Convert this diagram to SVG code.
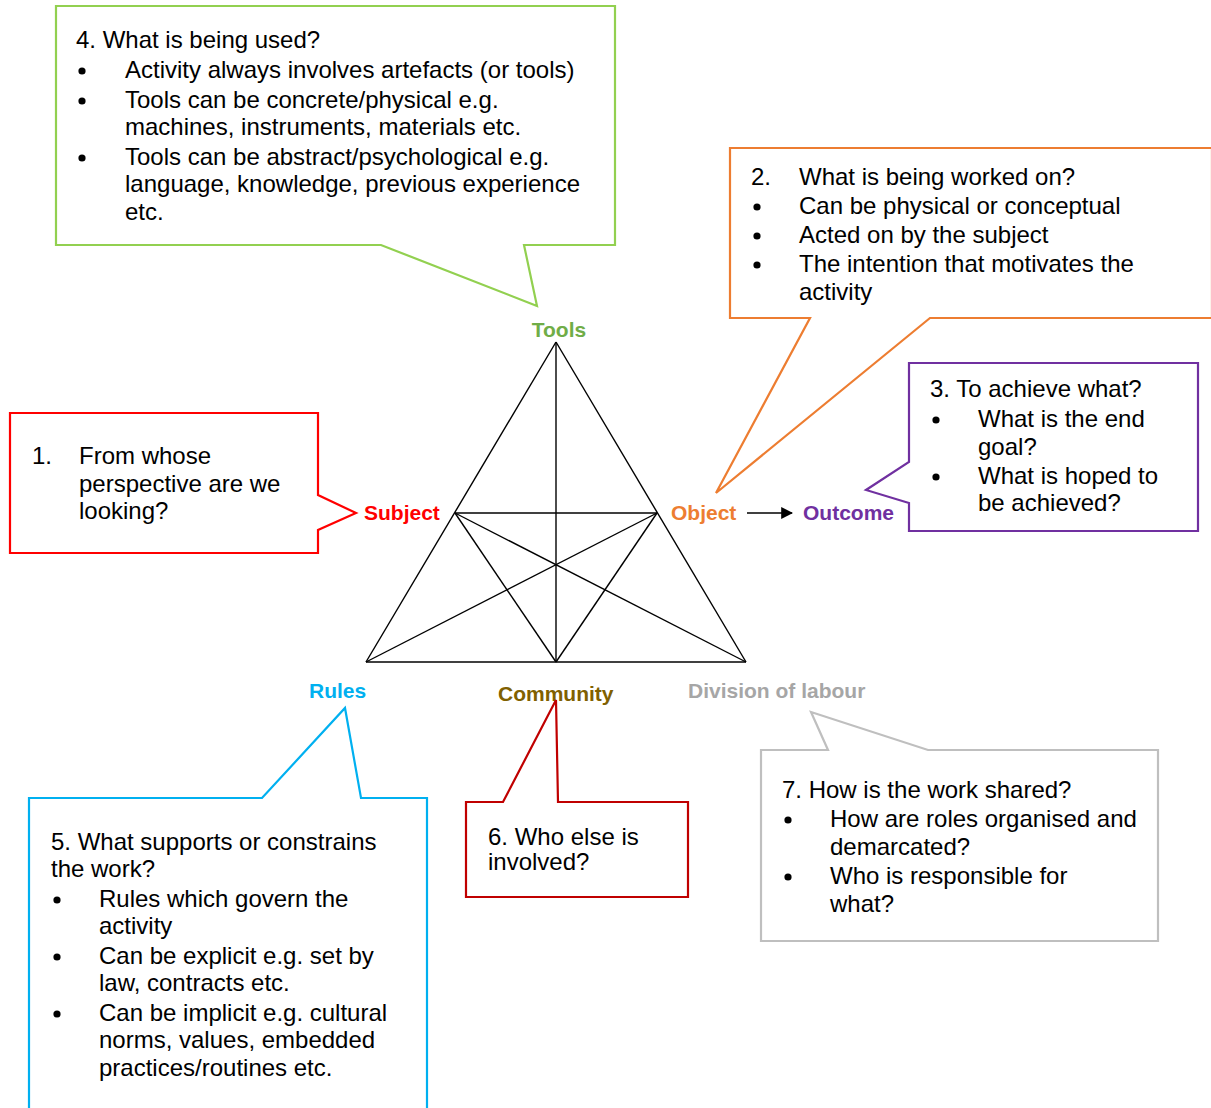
<svg xmlns="http://www.w3.org/2000/svg" width="1211" height="1108" viewBox="0 0 1211 1108">
<defs>
<style>
.t{font-family:"Liberation Sans",Arial,sans-serif;font-size:24px;fill:#000}
.lb{font-family:"Liberation Sans",Arial,sans-serif;font-size:21px;font-weight:bold}
.co{fill:#fff;stroke-width:2.2}
.b{fill:#000}
.tri line{stroke:#000;stroke-width:1.4}
</style>
<marker id="ah" viewBox="0 0 10 10" refX="9" refY="5" markerWidth="12" markerHeight="12" markerUnits="userSpaceOnUse" orient="auto">
<path d="M0,0 L10,5 L0,10 Z" fill="#000"/>
</marker>
</defs>
<rect width="1211" height="1108" fill="#fff"/>

<g id="connectors">
<g class="tri">
<line x1="556" y1="342" x2="366" y2="662"/>
<line x1="556" y1="342" x2="746" y2="662"/>
<line x1="366" y1="662" x2="746" y2="662"/>
<line x1="556" y1="342" x2="556" y2="662"/>
<line x1="455" y1="513" x2="657" y2="513"/>
<line x1="455" y1="513" x2="556" y2="662"/>
<line x1="657" y1="513" x2="556" y2="662"/>
<line x1="455" y1="513" x2="746" y2="662"/>
<line x1="657" y1="513" x2="366" y2="662"/>
</g>
<line x1="747" y1="513" x2="792" y2="513" stroke="#000" stroke-width="1.4" marker-end="url(#ah)"/>
</g>

<g id="tools-callout">
<path class="co" stroke="#92D050" d="M56,6 H615 V245 H524 L537,306 L381,245 H56 Z"/>
<text class="t" x="76" y="48">4. What is being used?</text>
<circle class="b" cx="82" cy="71" r="3.6"/><text class="t" x="125" y="78">Activity always involves artefacts (or tools)</text>
<circle class="b" cx="82" cy="101" r="3.6"/><text class="t" x="125" y="108">Tools can be concrete/physical e.g.</text>
<text class="t" x="125" y="135">machines, instruments, materials etc.</text>
<circle class="b" cx="82" cy="158" r="3.6"/><text class="t" x="125" y="165">Tools can be abstract/psychological e.g.</text>
<text class="t" x="125" y="192">language, knowledge, previous experience</text>
<text class="t" x="125" y="220">etc.</text>
</g>

<g id="object-callout">
<path class="co" stroke="#ED7D31" d="M730,148 H1212 V318 H930 L716,493 L810,318 H730 Z"/>
<text class="t" x="751" y="185">2.</text><text class="t" x="799" y="185">What is being worked on?</text>
<circle class="b" cx="757" cy="207" r="3.6"/><text class="t" x="799" y="214">Can be physical or conceptual</text>
<circle class="b" cx="757" cy="236" r="3.6"/><text class="t" x="799" y="243">Acted on by the subject</text>
<circle class="b" cx="757" cy="265" r="3.6"/><text class="t" x="799" y="272">The intention that motivates the</text>
<text class="t" x="799" y="300">activity</text>
</g>

<g id="outcome-callout">
<path class="co" stroke="#7030A0" d="M909,363 H1198 V531 H909 V503 L866,490 L909,462 Z"/>
<text class="t" x="930" y="397">3. To achieve what?</text>
<circle class="b" cx="936" cy="420" r="3.6"/><text class="t" x="978" y="427">What is the end</text>
<text class="t" x="978" y="455">goal?</text>
<circle class="b" cx="936" cy="477" r="3.6"/><text class="t" x="978" y="484">What is hoped to</text>
<text class="t" x="978" y="511">be achieved?</text>
</g>

<g id="subject-callout">
<path class="co" stroke="#FF0000" d="M10,413 H318 V495 L356,513 L318,530 V553 H10 Z"/>
<text class="t" x="32" y="464">1.</text><text class="t" x="79" y="464">From whose</text>
<text class="t" x="79" y="492">perspective are we</text>
<text class="t" x="79" y="519">looking?</text>
</g>

<g id="rules-callout">
<path class="co" stroke="#00B0F0" d="M29,1112 V798 H262 L345,708 L361,798 H427 V1112 Z"/>
<text class="t" x="51" y="850">5. What supports or constrains</text>
<text class="t" x="51" y="877">the work?</text>
<circle class="b" cx="57" cy="900" r="3.6"/><text class="t" x="99" y="907">Rules which govern the</text>
<text class="t" x="99" y="934">activity</text>
<circle class="b" cx="57" cy="957" r="3.6"/><text class="t" x="99" y="964">Can be explicit e.g. set by</text>
<text class="t" x="99" y="991">law, contracts etc.</text>
<circle class="b" cx="57" cy="1014" r="3.6"/><text class="t" x="99" y="1021">Can be implicit e.g. cultural</text>
<text class="t" x="99" y="1048">norms, values, embedded</text>
<text class="t" x="99" y="1076">practices/routines etc.</text>
</g>

<g id="division-callout">
<path class="co" stroke="#BFBFBF" d="M761,750 H828 L811,712 L928,750 H1158 V941 H761 Z"/>
<text class="t" x="782" y="798">7. How is the work shared?</text>
<circle class="b" cx="788" cy="820" r="3.6"/><text class="t" x="830" y="827">How are roles organised and</text>
<text class="t" x="830" y="855">demarcated?</text>
<circle class="b" cx="788" cy="877" r="3.6"/><text class="t" x="830" y="884">Who is responsible for</text>
<text class="t" x="830" y="912">what?</text>
</g>

<g id="labels">
<text id="tools" class="lb" x="559" y="337" text-anchor="middle" fill="#70AD47">Tools</text>
<text id="subject" class="lb" x="364" y="520" fill="#FF0000">Subject</text>
<text id="object" class="lb" x="671" y="520" fill="#ED7D31">Object</text>
<text id="outcome" class="lb" x="803" y="520" fill="#7030A0">Outcome</text>
<text id="rules" class="lb" x="309" y="698" fill="#00B0F0">Rules</text>
<text id="community" class="lb" x="498" y="701" fill="#806000">Community</text>
<text id="division" class="lb" x="688" y="698" fill="#A6A6A6">Division of labour</text>
</g>

<g id="community-callout">
<path class="co" stroke="#C00000" d="M466,802 H503 L556,700 L558,802 H688 V897 H466 Z"/>
<text class="t" x="488" y="845">6. Who else is</text>
<text class="t" x="488" y="870">involved?</text>
</g>
</svg>
